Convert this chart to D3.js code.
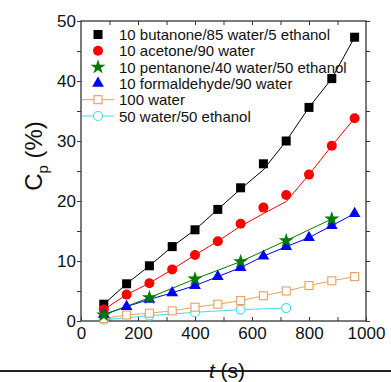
<!DOCTYPE html>
<html>
<head>
<meta charset="utf-8">
<script src="https://cdn.jsdelivr.net/npm/d3@7"></script>
<style>
  body { margin: 0; background: #fff; }
  text { font-family: "Liberation Sans", Arial, sans-serif; fill: #111; }
</style>
</head>
<body>
<div id="chart"></div>
<script>
// times (s)
var tAll = [80, 160, 240, 320, 400, 480, 560, 640, 720, 800, 880, 960];
var tPent = [80, 240, 400, 560, 720, 880];
var tEth = [80, 240, 400, 560, 720];

// Cp (%)
var butanone = [2.8, 6.2, 9.2, 12.4, 15.2, 18.6, 22.2, 26.2, 30.0, 35.6, 40.4, 47.3];
var butanoneLine = [2.8, 6.2, 9.2, 12.4, 15.2, 18.6, 22.0, 25.2, 30.0, 35.6, 40.4, 47.3];
var acetone = [1.9, 4.4, 6.3, 8.6, 11.0, 13.3, 16.2, 18.9, 21.0, 24.4, 29.2, 33.8];
var acetoneLine = [1.9, 4.4, 6.3, 8.6, 11.0, 13.3, 15.8, 17.9, 19.9, 24.4, 29.2, 33.8];
var pentanone = [1.0, 3.9, 7.0, 9.9, 13.4, 17.0];
var formaldehyde = [1.1, 2.4, 3.6, 4.7, 5.9, 7.4, 8.9, 10.8, 12.4, 13.9, 15.9, 17.9];
var water = [0.4, 1.0, 1.3, 1.7, 2.3, 2.8, 3.4, 4.2, 5.0, 5.9, 6.7, 7.4];
var waterEthanol = [0.2, 0.9, 1.45, 1.9, 2.15];

var legendLabels = [
  "10 butanone/85 water/5 ethanol",
  "10 acetone/90 water",
  "10 pentanone/40 water/50 ethanol",
  "10 formaldehyde/90 water",
  "100 water",
  "50 water/50 ethanol"
];

var xTicks = [0, 200, 400, 600, 800, 1000];
var yTicks = [0, 10, 20, 30, 40, 50];

var width = 391, height = 382;

var svg = d3.select("#chart")
  .append("svg")
  .attr("width", width)
  .attr("height", height);

var x = d3.scaleLinear().domain([0, 1000]).range([81, 366]);
var y = d3.scaleLinear().domain([0, 50]).range([321, 21]);

// frame
svg.append("rect")
  .attr("x", x(0)).attr("y", y(50))
  .attr("width", x(1000) - x(0)).attr("height", y(0) - y(50))
  .attr("fill", "none").attr("stroke", "#333").attr("stroke-width", 1.3);

// left axis: outward ticks every 5
svg.append("g")
  .attr("transform", "translate(" + x(0) + ",0)")
  .call(d3.axisLeft(y).tickValues(d3.range(0, 51, 5)).tickSize(4).tickFormat(""))
  .call(function(g) { g.select(".domain").remove(); g.selectAll("line").attr("stroke", "#333"); });

svg.append("g")
  .attr("transform", "translate(" + x(0) + ",0)")
  .call(d3.axisLeft(y).tickValues(yTicks).tickSize(0).tickPadding(5).tickFormat(d3.format("d")))
  .call(function(g) {
    g.select(".domain").remove();
    g.selectAll("text").style("font-size", "17px").attr("fill", "#111");
  });

// right axis ticks
svg.append("g")
  .attr("transform", "translate(" + x(1000) + ",0)")
  .call(d3.axisRight(y).tickValues(d3.range(0, 51, 5)).tickSize(4).tickFormat(""))
  .call(function(g) { g.select(".domain").remove(); g.selectAll("line").attr("stroke", "#333"); });

// bottom axis: inward ticks every 100
svg.append("g")
  .attr("transform", "translate(0," + y(0) + ")")
  .call(d3.axisTop(x).tickValues(d3.range(0, 1001, 100)).tickSize(4).tickFormat(""))
  .call(function(g) { g.select(".domain").remove(); g.selectAll("line").attr("stroke", "#333"); });

svg.append("g")
  .attr("transform", "translate(0," + y(0) + ")")
  .call(d3.axisBottom(x).tickValues(xTicks).tickSize(0).tickPadding(6).tickFormat(d3.format("d")))
  .call(function(g) {
    g.select(".domain").remove();
    g.selectAll("text").style("font-size", "17px").attr("fill", "#111");
  });

// top axis ticks (inward)
svg.append("g")
  .attr("transform", "translate(0," + y(50) + ")")
  .call(d3.axisBottom(x).tickValues(d3.range(100, 1000, 100)).tickSize(4).tickFormat(""))
  .call(function(g) { g.select(".domain").remove(); g.selectAll("line").attr("stroke", "#333"); });

// axis titles
var yl = svg.append("text")
  .attr("transform", "translate(42,156) rotate(-90)")
  .attr("text-anchor", "middle")
  .style("font-size", "24px");
yl.append("tspan").text("C");
yl.append("tspan").text("p").style("font-size", "15px").attr("dy", 6);
yl.append("tspan").text(" (%)").attr("dy", -6);

// page rule under the chart
svg.append("line")
  .attr("x1", 0).attr("x2", width)
  .attr("y1", 371).attr("y2", 371)
  .attr("stroke", "#222").attr("stroke-width", 2);

var xl = svg.append("text")
  .attr("x", 227).attr("y", 378)
  .attr("text-anchor", "middle")
  .style("font-size", "21px");
xl.append("tspan").text("t").style("font-style", "italic");
xl.append("tspan").text(" (s)");

var line = d3.line()
  .x(function(d) { return x(d[0]); })
  .y(function(d) { return y(d[1]); });

function pairs(ts, vs) {
  return ts.map(function(t, i) { return [t, vs[i]]; });
}

var series = [
  { ts: tEth, vs: waterEthanol, lv: waterEthanol, color: "#3fe0e6", shape: "ocircle" },
  { ts: tAll, vs: water, lv: water, color: "#e8a060", shape: "osquare" },
  { ts: tAll, vs: butanone, lv: butanoneLine, color: "#000000", shape: "square" },
  { ts: tAll, vs: acetone, lv: acetoneLine, color: "#ff0000", shape: "circle" },
  { ts: tAll, vs: formaldehyde, lv: formaldehyde, color: "#0000ff", shape: "triangle" },
  { ts: tPent, vs: pentanone, lv: pentanone, color: "#007a00", shape: "star" }
];

function drawMarker(g, shape, color, cx, cy) {
  if (shape === "square") {
    g.append("rect").attr("x", cx - 4.5).attr("y", cy - 4.5)
      .attr("width", 9).attr("height", 9).attr("fill", color);
  } else if (shape === "osquare") {
    g.append("rect").attr("x", cx - 4).attr("y", cy - 4)
      .attr("width", 8).attr("height", 8).attr("fill", "#fff")
      .attr("stroke", color).attr("stroke-width", 1.1);
  } else if (shape === "circle") {
    g.append("circle").attr("cx", cx).attr("cy", cy).attr("r", 5).attr("fill", color);
  } else if (shape === "ocircle") {
    g.append("circle").attr("cx", cx).attr("cy", cy).attr("r", 4.5)
      .attr("fill", "#fff").attr("stroke", color).attr("stroke-width", 1.1);
  } else if (shape === "triangle") {
    g.append("path").attr("d", d3.symbol().type(d3.symbolTriangle).size(60)())
      .attr("transform", "translate(" + cx + "," + cy + ")").attr("fill", color);
  } else if (shape === "star") {
    g.append("path").attr("d", d3.symbol().type(d3.symbolStar).size(70)())
      .attr("transform", "translate(" + cx + "," + cy + ")").attr("fill", color);
  }
}

series.forEach(function(s) {
  svg.append("path")
    .datum(pairs(s.ts, s.lv))
    .attr("d", line)
    .attr("fill", "none")
    .attr("stroke", s.color)
    .attr("stroke-width", 1);
});

series.forEach(function(s) {
  var g = svg.append("g");
  s.ts.forEach(function(t, i) {
    drawMarker(g, s.shape, s.color, x(t), y(s.vs[i]));
  });
});

// legend
var legendOrder = [
  { shape: "square", color: "#000000", withLine: false },
  { shape: "circle", color: "#ff0000", withLine: false },
  { shape: "star", color: "#007a00", withLine: false },
  { shape: "triangle", color: "#0000ff", withLine: false },
  { shape: "osquare", color: "#e8a060", withLine: true },
  { shape: "ocircle", color: "#3fe0e6", withLine: true }
];

var legend = svg.append("g");
legendOrder.forEach(function(l, i) {
  var cy = 34.5 + i * 16.3;
  if (l.withLine) {
    legend.append("line").attr("x1", 82).attr("x2", 114)
      .attr("y1", cy).attr("y2", cy)
      .attr("stroke", l.color).attr("stroke-width", 1);
  }
  drawMarker(legend, l.shape, l.color, 98, cy);
  legend.append("text")
    .attr("x", 119).attr("y", cy + 5.5)
    .style("font-size", "15px")
    .text(legendLabels[i]);
});
</script>
</body>
</html>
